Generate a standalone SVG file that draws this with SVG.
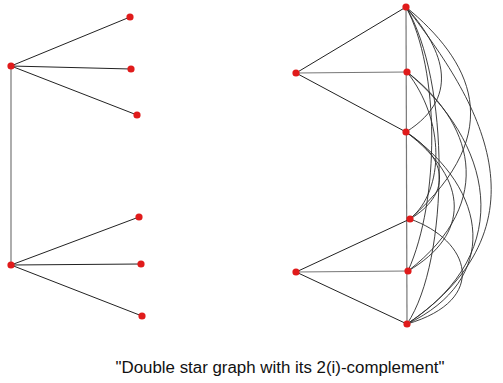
<svg xmlns="http://www.w3.org/2000/svg" width="503" height="383" viewBox="0 0 503 383">
  <style>
    .edge { stroke: #222; stroke-width: 1; fill: none; }
    .soft { stroke: #777; stroke-width: 1.2; fill: none; }
    .curve { stroke: #2a2a2a; stroke-width: 0.9; fill: none; }
    .node { fill: #e01b1b; }
    .caption { font-family: "Liberation Sans", Arial, sans-serif; font-size: 16px; fill: #111; }
  </style>
  <defs>
    <circle id="dot" r="3.6" class="node"/>
  </defs>

  <!-- connectors -->
  <g id="connectors">
    <!-- double star -->
    <line class="soft" x1="11" y1="66" x2="11" y2="265"/>
    <line class="edge" x1="11" y1="66" x2="130" y2="17"/>
    <line class="edge" x1="11" y1="66" x2="131" y2="69"/>
    <line class="edge" x1="11" y1="66" x2="137" y2="115"/>
    <line class="edge" x1="11" y1="265" x2="139" y2="217"/>
    <line class="edge" x1="11" y1="265" x2="141" y2="264"/>
    <line class="edge" x1="11" y1="265" x2="142" y2="316"/>

    <!-- complement: hubs to the vertical column -->
    <line class="soft" x1="406" y1="7" x2="407" y2="324"/>
    <line class="edge" x1="296" y1="73" x2="406" y2="7"/>
    <line class="soft" x1="296" y1="73" x2="407" y2="72"/>
    <line class="edge" x1="296" y1="73" x2="406" y2="132"/>
    <line class="edge" x1="296" y1="272" x2="410" y2="219"/>
    <line class="soft" x1="296" y1="272" x2="408" y2="271"/>
    <line class="edge" x1="296" y1="272" x2="407" y2="324"/>

    <!-- complement: arcs between column vertices -->
    <path class="curve" d="M406,7 C440,45 465,95 406,132"/>
    <path class="curve" d="M406,7 C470,60 510,130 410,219"/>
    <path class="curve" d="M406,7 C470,90 560,220 407,324"/>
    <path class="curve" d="M406,7 C440,70 440,200 408,271"/>
    <path class="curve" d="M406,7 C450,80 450,260 407,324"/>
    <path class="curve" d="M407,72 C445,120 445,190 410,219"/>
    <path class="curve" d="M407,72 C470,120 500,200 408,271"/>
    <path class="curve" d="M407,72 C490,140 520,250 407,324"/>
    <path class="curve" d="M406,132 C450,160 450,195 410,219"/>
    <path class="curve" d="M406,132 C470,180 470,235 408,271"/>
    <path class="curve" d="M406,132 C490,190 500,280 407,324"/>
    <path class="curve" d="M410,219 C470,240 490,300 407,324"/>
  </g>

  <!-- nodes -->
  <g id="n-l1"><use href="#dot" x="11" y="66"/></g>
  <g id="n-l2"><use href="#dot" x="11" y="265"/></g>
  <g id="n-la"><use href="#dot" x="130" y="17"/></g>
  <g id="n-lb"><use href="#dot" x="131" y="69"/></g>
  <g id="n-lc"><use href="#dot" x="137" y="115"/></g>
  <g id="n-ld"><use href="#dot" x="139" y="217"/></g>
  <g id="n-le"><use href="#dot" x="141" y="264"/></g>
  <g id="n-lf"><use href="#dot" x="142" y="316"/></g>

  <g id="n-r1"><use href="#dot" x="296" y="73"/></g>
  <g id="n-r2"><use href="#dot" x="296" y="272"/></g>
  <g id="n-ra"><use href="#dot" x="406" y="7"/></g>
  <g id="n-rb"><use href="#dot" x="407" y="72"/></g>
  <g id="n-rc"><use href="#dot" x="406" y="132"/></g>
  <g id="n-rd"><use href="#dot" x="410" y="219"/></g>
  <g id="n-re"><use href="#dot" x="408" y="271"/></g>
  <g id="n-rf"><use href="#dot" x="407" y="324"/></g>

  <text class="caption" x="280" y="373" text-anchor="middle" textLength="329" lengthAdjust="spacingAndGlyphs">"Double star graph with its 2(i)-complement"</text>
</svg>
